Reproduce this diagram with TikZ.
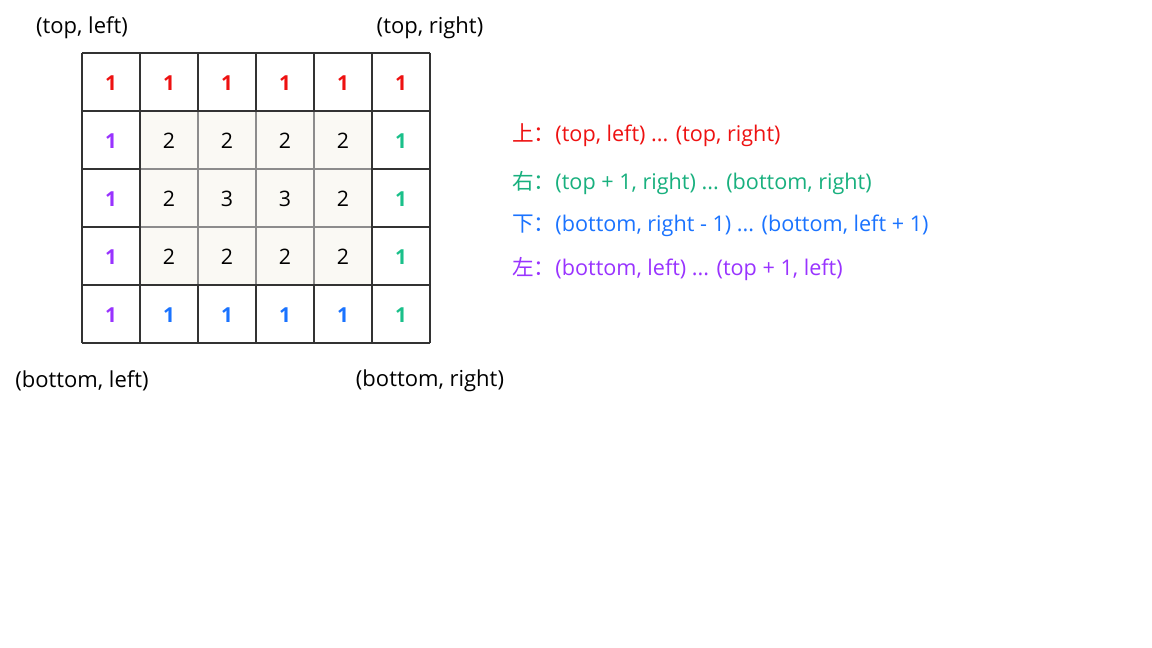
\documentclass[tikz,border=0pt]{standalone}
\usepackage{fontspec}
\setmainfont{Open Sans}
\newfontfamily\cjk{Noto Sans CJK SC}
\begin{document}
\begin{tikzpicture}[x=0.75pt,y=-0.75pt,
  lbl/.style={font=\fontsize{16.5}{18}\selectfont, text=black, inner sep=0pt},
  leg/.style={font=\fontsize{16.2}{18}\selectfont, anchor=west, inner sep=0pt},
  num/.style={font=\fontsize{16}{18}\selectfont, inner sep=0pt},
  one/.style={font=\bfseries\fontsize{15.5}{18}\selectfont, inner sep=0pt},
  gridline/.style={draw=black!80, line width=1.1pt},
  innerline/.style={draw=black!45, line width=1pt}]
\definecolor{cred}{HTML}{EE1111}
\definecolor{cgreen}{HTML}{1AC08A}
\definecolor{cblue}{HTML}{1A73FF}
\definecolor{cpurple}{HTML}{9933FF}
\definecolor{cream}{HTML}{FAF9F4}
\definecolor{tgreen}{HTML}{18B07E}
\path[use as bounding box, fill=white] (0,0) rectangle (1152,648);
% inner shaded cells
\fill[cream] (140,111) rectangle (372,285);
% inner lines (lighter)
\foreach \x in {198,256,314} \draw[innerline] (\x,111) -- (\x,285);
\foreach \y in {169,227} \draw[innerline] (140,\y) -- (372,\y);
% outer grid lines
\foreach \x in {82,140,372,430} \draw[gridline] (\x,53) -- (\x,343);
\foreach \x in {198,256,314} {\draw[gridline] (\x,53) -- (\x,111); \draw[gridline] (\x,285) -- (\x,343);}
\foreach \y in {53,111,285,343} \draw[gridline] (82,\y) -- (430,\y);
\foreach \y in {169,227} {\draw[gridline] (82,\y) -- (140,\y); \draw[gridline] (372,\y) -- (430,\y);}
% top row
\foreach \c [count=\i from 0] in {0,1,2,3,4,5}
  \node[one, text=cred] (t\i) at ({111+58*\i},83) {1};
% left column
\foreach \r in {1,2,3,4}
  \node[one, text=cpurple] (l\r) at (111,{83+58*\r}) {1};
% right column
\foreach \r in {1,2,3,4}
  \node[one, text=cgreen] (r\r) at (401,{83+58*\r}) {1};
% bottom row
\foreach \i in {1,2,3,4}
  \node[one, text=cblue] (b\i) at ({111+58*\i},315) {1};
% inner numbers
\foreach \i in {1,2,3,4} {
  \node[num] (ia\i) at ({111+58*\i},141) {2};
  \node[num] (ic\i) at ({111+58*\i},257) {2};
}
\node[num] (ib1) at (169,199) {2};
\node[num] (ib2) at (227,199) {3};
\node[num] (ib3) at (285,199) {3};
\node[num] (ib4) at (343,199) {2};
% corner labels
\node[lbl] (tl) at (82,28) {(top, left)};
\node[lbl] (tr) at (430,28) {(top, right)};
\node[lbl] (bl) at (82,381) {(bottom, left)};
\node[lbl] (br) at (430,381) {(bottom, right)};
% legend
\node[leg, text=cred] (g1) at (512,135) {{\cjk 上：}(top, left) ... (top, right)};
\node[leg, text=tgreen] (g2) at (512,183) {{\cjk 右：}(top + 1, right) ... (bottom, right)};
\node[leg, text=cblue] (g3) at (512,226) {{\cjk 下：}(bottom, right - 1) ... (bottom, left + 1)};
\node[leg, text=cpurple] (g4) at (512,269) {{\cjk 左：}(bottom, left) ... (top + 1, left)};
\end{tikzpicture}
\end{document}
